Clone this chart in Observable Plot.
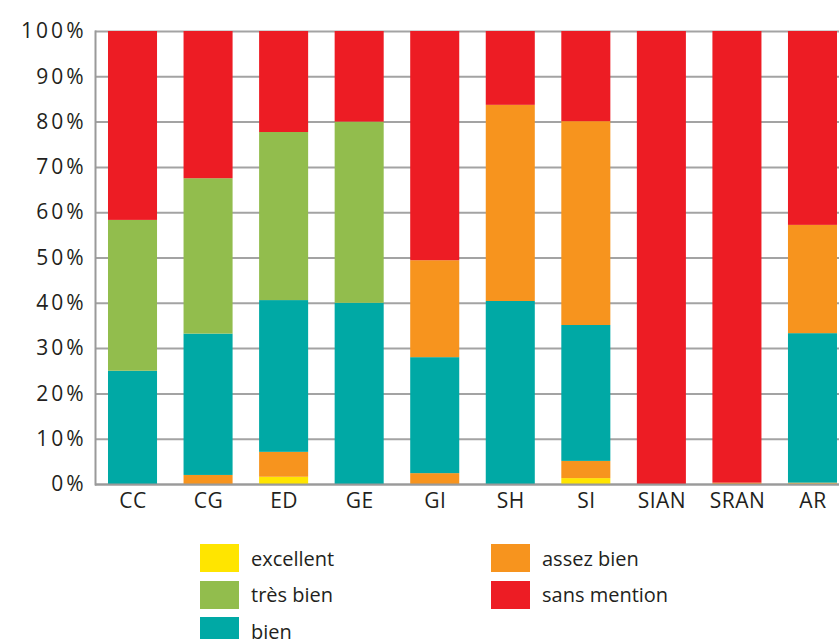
<!DOCTYPE html>
<html>
<head>
<meta charset="utf-8">
<script src="https://cdn.jsdelivr.net/npm/d3@7"></script>
<script src="https://cdn.jsdelivr.net/npm/@observablehq/plot@0.6"></script>
<style>
  html, body { margin: 0; padding: 0; background: #fff; }
  body { width: 839px; height: 639px; overflow: hidden; font-family: "Open Sans", sans-serif; color: #231f20; }
  #chart svg { display: block; overflow: visible; }
  #legend {
    position: absolute; left: 200px; top: 544px;
    display: grid; grid-template-columns: 291px auto;
    grid-template-rows: repeat(3, 36.5px); grid-auto-flow: column;
  }
  .item { display: flex; align-items: center; height: 28px; font-size: 20px; }
  .sw { width: 39px; height: 28px; margin-right: 12px; flex: none; }
</style>
</head>
<body>
<div id="chart"></div>
<div id="legend"></div>
<script>
const categories = ["CC", "CG", "ED", "GE", "GI", "SH", "SI", "SIAN", "SRAN", "AR"];
// stacked segments, bottom to top (percent)
const excellent    = [0,    0,    1.6,  0,  0,    0,    1.3,  0,   0,    0.1];
const assezBienBas = [0,    2.0,  5.5,  0,  2.4,  0,    3.8,  0,   0.3,  0.2];
const bien         = [25.0, 31.2, 33.5, 40, 25.6, 40.4, 30.0, 0,   0,    33.0];
const tresBien     = [33.3, 34.3, 37.1, 40, 0,    0,    0,    0,   0,    0];
const assezBien    = [0,    0,    0,    0,  21.4, 43.3, 45.0, 0,   0,    23.9];
const sansMention  = [41.7, 32.5, 22.3, 20, 50.6, 16.3, 19.9, 100, 99.7, 42.8];

const seriesKeys   = ["excellent", "assez bien (bas)", "bien", "très bien", "assez bien", "sans mention"];
const seriesValues = [excellent, assezBienBas, bien, tresBien, assezBien, sansMention];
const seriesColors = ["#FFE500", "#F7941E", "#00A9A5", "#92BD4D", "#F7941E", "#ED1C24"];

const legendLabels = ["excellent", "très bien", "bien", "assez bien", "sans mention"];
const legendColors = ["#FFE500", "#92BD4D", "#00A9A5", "#F7941E", "#ED1C24"];

const yTicks = [0, 10, 20, 30, 40, 50, 60, 70, 80, 90, 100];

const data = [];
seriesKeys.forEach((s, i) => {
  categories.forEach((c, j) => data.push({cat: c, series: s, value: seriesValues[i][j]}));
});

const chart = Plot.plot({
  width: 839,
  height: 525,
  marginLeft: 95,
  marginRight: 0,
  marginTop: 31,
  marginBottom: 41,
  style: {fontFamily: "'Open Sans', sans-serif", fontSize: "20px", color: "#231f20", background: "#fff"},
  x: {type: "band", domain: categories, range: [95, 850], paddingInner: 0.351, paddingOuter: 0.172, round: false, label: null},
  y: {domain: [0, 100], label: null},
  color: {domain: seriesKeys, range: seriesColors},
  marks: [
    Plot.ruleY(yTicks, {stroke: "#a3a3a3", strokeWidth: 2}),
    Plot.barY(data, Plot.stackY({
      x: "cat", y: "value", z: "series", fill: "series", order: seriesKeys
    })),
    Plot.ruleY([0], {stroke: "#9a9a9a", strokeWidth: 2}),
    Plot.frame({anchor: "left", stroke: "#9a9a9a", strokeWidth: 2}),
    Plot.axisY({ticks: yTicks, tickFormat: d => d + "%", tickSize: 0, tickPadding: 9, fontSize: 21, label: null, ariaLabel: "y-axis"}),
    Plot.axisX({tickSize: 0, tickPadding: 9, fontSize: 21, label: null})
  ]
});
document.getElementById("chart").appendChild(chart);
d3.select(chart).selectAll("g[aria-label='y-axis tick label']").style("letter-spacing", "3px");
d3.select(chart).selectAll("g[aria-label='x-axis tick label']").style("letter-spacing", "0.5px");

const legend = document.getElementById("legend");
legendLabels.forEach((l, i) => {
  const it = document.createElement("div");
  it.className = "item";
  const sw = document.createElement("span");
  sw.className = "sw";
  sw.style.background = legendColors[i];
  const tx = document.createElement("span");
  tx.textContent = l;
  it.appendChild(sw); it.appendChild(tx);
  legend.appendChild(it);
});
</script>
</body>
</html>
